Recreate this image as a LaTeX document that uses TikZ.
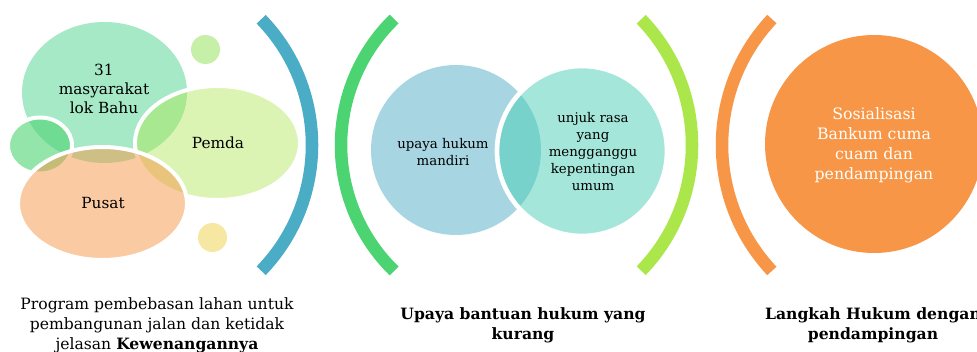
\documentclass[tikz,border=0pt]{standalone}
\usepackage{fontspec}
\setmainfont{DejaVu Serif}
\definecolor{arcblue}{RGB}{75,172,198}
\definecolor{arcgreen}{RGB}{76,212,114}
\definecolor{arclime}{RGB}{171,231,74}
\definecolor{arcorange}{RGB}{247,150,70}
\definecolor{mint}{RGB}{166,233,198}
\definecolor{grn}{RGB}{76,212,114}
\definecolor{dotgreen}{RGB}{198,239,168}
\definecolor{dotyellow}{RGB}{246,231,163}
\definecolor{lblue}{RGB}{167,214,226}
\definecolor{teal}{RGB}{71,206,180}
\tikzset{
  bracket/.style={line width=9.4pt},
  blob/.style={draw=white, line width=3pt, draw opacity=1},
  txt/.style={align=center, inner sep=0pt, font=\fontsize{11.5}{14.3}\selectfont},
  smalltxt/.style={align=center, inner sep=0pt, font=\fontsize{10}{12.75}\selectfont},
  captxt/.style={align=center, inner sep=0pt, font=\fontsize{11.7}{15}\selectfont},
}
\begin{document}
\begin{tikzpicture}[x=0.75pt, y=-0.75pt]
\useasboundingbox (0,0) rectangle (977,352);
\fill[white] (0,0) rectangle (977,352);

% ---- left cluster ----
\fill[mint] (104.5,92.5) ellipse [x radius=82.5, y radius=70.5];
\draw[blob, fill=grn, fill opacity=0.6] (40,145.5) ellipse [x radius=32, y radius=28];
\draw[blob, fill=arclime, fill opacity=0.42] (217.5,143) ellipse [x radius=82.5, y radius=57];
\draw[blob, fill=arcorange, fill opacity=0.5] (102.5,203.5) ellipse [x radius=84.5, y radius=56.5];
\fill[dotgreen] (205.5,49.5) circle [radius=14.5];
\fill[dotyellow] (212.5,237.5) circle [radius=14.5];
\draw[bracket, arcblue] (131,145) ++(-44:181) arc[start angle=-44, end angle=44, radius=181];

\node[txt] (t31) at (104,89) {31\\masyarakat\\lok Bahu};
\node[txt] (tpemda) at (218,143) {Pemda};
\node[txt] (tpusat) at (103,203) {Pusat};

% ---- middle ----
\draw[bracket, arcgreen] (517,145) ++(180-45.7:176) arc[start angle=180-45.7, end angle=180+45.7, radius=176];
\draw[bracket, arclime] (511,145) ++(-44:181) arc[start angle=-44, end angle=44, radius=181];
\fill[lblue] (456,150) circle [radius=85];
\draw[blob, line width=3.5pt, fill=teal, fill opacity=0.49] (582,151) circle [radius=85];
\node[smalltxt] (tupaya) at (443,152) {upaya hukum\\mandiri};
\node[smalltxt] (tunjuk) at (593,152) {unjuk rasa\\yang\\mengganggu\\kepentingan\\umum};

% ---- right ----
\draw[bracket, arcorange] (906,145) ++(180-43.2:184) arc[start angle=180-43.2, end angle=180+43.2, radius=184];
\fill[arcorange] (874,144) circle [radius=109];
\node[align=center, inner sep=0pt, text=white, font=\fontsize{11.8}{15}\selectfont] (tsos) at (874,145) {Sosialisasi\\Bankum cuma\\cuam dan\\pendampingan};

% ---- captions ----
\node[captxt] (cap1) at (157,325) {Program pembebasan lahan untuk\\pembangunan jalan dan ketidak\\jelasan \textbf{Kewenangannya}};
\node[captxt, font=\fontsize{11.7}{15}\selectfont\bfseries] (cap2) at (523,325) {Upaya bantuan hukum yang\\kurang};
\node[captxt, font=\fontsize{11.7}{15}\selectfont\bfseries] (cap3) at (873,325) {Langkah Hukum dengan\\pendampingan};
\end{tikzpicture}
\end{document}
